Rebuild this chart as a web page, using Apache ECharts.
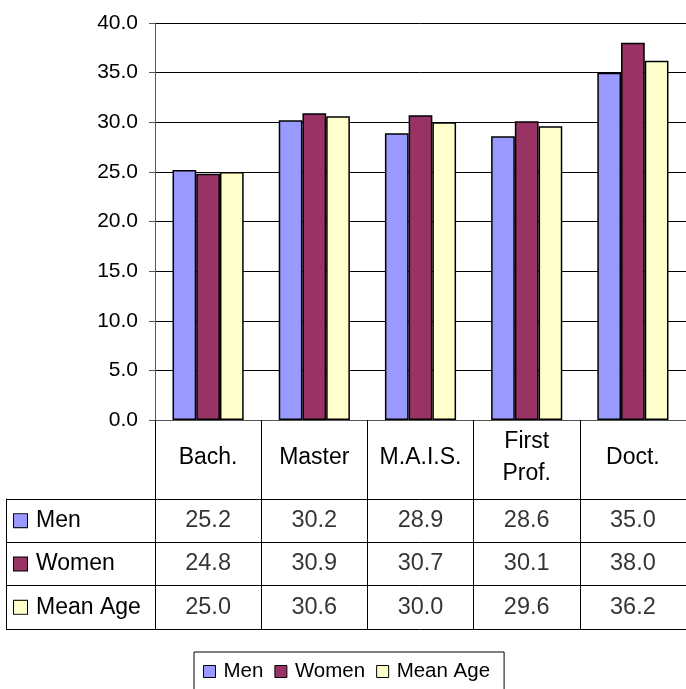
<!DOCTYPE html>
<html>
<head>
<meta charset="utf-8">
<script src="https://cdn.jsdelivr.net/npm/echarts@6/dist/echarts.min.js"></script>
<style>
html,body{margin:0;padding:0;background:#fff;}
#chart{width:686px;height:689px;}
</style>
</head>
<body>
<div id="chart"></div>
<script>
const categories = ['Bach.', 'Master', 'M.A.I.S.', 'First\nProf.', 'Doct.'];
const seriesNames = ['Men', 'Women', 'Mean Age'];
const men = [25.2, 30.2, 28.9, 28.6, 35.0];
const women = [24.8, 30.9, 30.7, 30.1, 38.0];
const meanAge = [25.0, 30.6, 30.0, 29.6, 36.2];
const colors = ['#9999FF', '#993366', '#FFFFCC'];

const FONT = '"Liberation Sans", Arial, sans-serif';
const allSeries = [men, women, meanAge];

const tableData = [];
allSeries.forEach(function (vals, r) {
  vals.forEach(function (v, c) { tableData.push([c, r, v]); });
});

const chart = echarts.init(document.getElementById('chart'), null, {renderer: 'canvas'});

const barSeries = seriesNames.map(function (name, i) {
  return {
    name: name,
    type: 'bar',
    xAxisIndex: 0,
    yAxisIndex: 0,
    data: allSeries[i],
    barGap: '0%',
    barCategoryGap: '33%',
    itemStyle: {color: colors[i], borderColor: '#000', borderWidth: 1.5},
    emphasis: {disabled: true}
  };
});

const rich = {t: {fontSize: 23, fontFamily: FONT, color: '#000', padding: [0, 0, 0, 9]}};
colors.forEach(function (c, i) {
  rich['sq' + i] = {width: 13, height: 13, backgroundColor: c, borderColor: '#000', borderWidth: 1};
});

const option = {
  backgroundColor: '#fff',
  animation: false,
  textStyle: {fontFamily: FONT},
  legend: {
    data: seriesNames,
    left: 194,
    top: 652,
    icon: 'rect',
    itemWidth: 12,
    itemHeight: 12,
    itemGap: 11,
    padding: [9, 14, 14, 9],
    borderColor: '#000',
    borderWidth: 1,
    itemStyle: {borderColor: '#000', borderWidth: 1},
    textStyle: {fontSize: 20.5, fontFamily: FONT, color: '#000', padding: [0, 0, 0, 3]},
    selectedMode: false
  },
  grid: [
    {left: 155, top: 23, width: 536, height: 397},
    {left: 155, top: 499, width: 536, height: 130},
    {left: 6, top: 499, width: 149, height: 130}
  ],
  xAxis: [
    {
      gridIndex: 0, type: 'category', data: categories,
      axisLine: {show: true, lineStyle: {color: '#555', width: 1}},
      axisTick: {show: true, interval: 0, length: 79, lineStyle: {color: '#000', width: 1}},
      axisLabel: {interval: 0, margin: 38, verticalAlign: 'middle', lineHeight: 32, fontSize: 23, fontFamily: FONT, color: '#000'}
    },
    {
      gridIndex: 1, type: 'category', data: categories,
      axisLine: {show: false}, axisTick: {show: false}, axisLabel: {show: false},
      splitLine: {show: true, interval: 0, lineStyle: {color: '#000', width: 1}}
    },
    {
      gridIndex: 2, type: 'category', data: [''], show: false
    }
  ],
  yAxis: [
    {
      gridIndex: 0, type: 'value', min: 0, max: 40, interval: 5,
      axisLine: {show: true, lineStyle: {color: '#555', width: 1}},
      axisTick: {show: true, length: 6, lineStyle: {color: '#555'}},
      axisLabel: {margin: 17, fontSize: 21, fontFamily: FONT, color: '#000', formatter: function (v) { return v.toFixed(1); }},
      splitLine: {show: true, lineStyle: {color: '#000', width: 1}}
    },
    {
      gridIndex: 1, type: 'category', data: seriesNames, inverse: true,
      axisLine: {show: true, lineStyle: {color: '#000', width: 1}},
      axisTick: {show: false}, axisLabel: {show: false},
      splitLine: {show: true, interval: 0, lineStyle: {color: '#000', width: 1}}
    },
    {
      gridIndex: 2, type: 'category', data: seriesNames, inverse: true,
      axisLine: {show: true, lineStyle: {color: '#000', width: 1}},
      axisTick: {show: false},
      splitLine: {show: true, interval: 0, lineStyle: {color: '#000', width: 1}},
      axisLabel: {
        inside: true, margin: 8, align: 'left', interval: 0,
        formatter: function (name, idx) { return '{sq' + idx + '|}{t|' + name + '}'; },
        rich: rich
      }
    }
  ],
  series: barSeries.concat([{
    type: 'scatter',
    xAxisIndex: 1,
    yAxisIndex: 1,
    data: tableData,
    symbolSize: 0,
    silent: true,
    label: {
      show: true, position: 'inside', fontSize: 23.5, fontFamily: FONT, color: '#000',
      formatter: function (p) { return p.value[2].toFixed(1); }
    }
  }])
};
chart.setOption(option);
</script>
</body>
</html>
